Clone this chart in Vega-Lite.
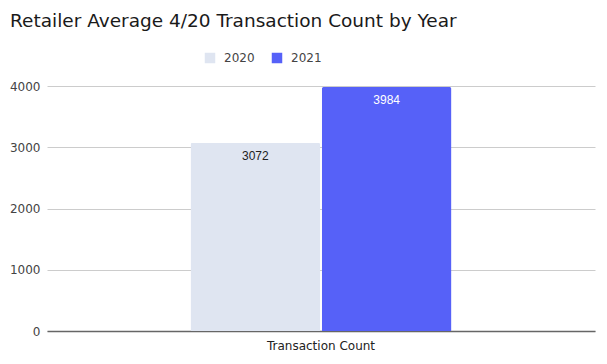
{
  "$schema": "https://vega.github.io/schema/vega-lite/v6.json",
  "autosize": "none",
  "width": 548,
  "height": 245,
  "padding": {"left": 47, "top": 86, "right": 12, "bottom": 33},
  "background": "white",
  "view": {"stroke": null},
  "title": {
    "text": "Retailer Average 4/20 Transaction Count by Year",
    "anchor": "start",
    "frame": "group",
    "dx": -37,
    "offset": 22,
    "font": "DejaVu Sans",
    "fontSize": 18.5,
    "fontWeight": "normal",
    "color": "#1a1a1a"
  },
  "data": {
    "values": [
      {"metric": "Transaction Count", "year": "2020", "value": 3072},
      {"metric": "Transaction Count", "year": "2021", "value": 3984}
    ]
  },
  "encoding": {
    "x": {
      "field": "metric",
      "type": "nominal",
      "scale": {"paddingInner": 0, "paddingOuter": 0.55},
      "axis": {
        "title": null,
        "labelAngle": 0,
        "ticks": false,
        "labelFont": "DejaVu Sans",
        "labelFontSize": 12,
        "labelColor": "#222",
        "labelPadding": 9,
        "domainColor": "#666",
        "domainWidth": 1.5
      }
    },
    "xOffset": {
      "field": "year",
      "type": "nominal",
      "scale": {"paddingInner": 0.012, "paddingOuter": 0}
    },
    "y": {
      "field": "value",
      "type": "quantitative",
      "scale": {"domain": [0, 4000]},
      "axis": {
        "title": null,
        "values": [0, 1000, 2000, 3000, 4000],
        "format": "d",
        "domain": false,
        "ticks": false,
        "labelFont": "DejaVu Sans",
        "labelFontSize": 12,
        "labelColor": "#444",
        "labelPadding": 7,
        "gridColor": "#cccccc"
      }
    }
  },
  "layer": [
    {
      "mark": {"type": "bar", "cornerRadiusTopLeft": 2, "cornerRadiusTopRight": 2},
      "encoding": {
        "color": {
          "field": "year",
          "type": "nominal",
          "scale": {"domain": ["2020", "2021"], "range": ["#dfe5f1", "#5661f8"]},
          "legend": {
            "title": null,
            "orient": "none",
            "direction": "horizontal",
            "legendX": 157,
            "legendY": -34,
            "symbolType": "square",
            "symbolSize": 110,
            "symbolStrokeWidth": 0,
            "labelFont": "DejaVu Sans",
            "labelFontSize": 12,
            "labelColor": "#444",
            "labelOffset": 8,
            "columnPadding": 16
          }
        }
      }
    },
    {
      "mark": {"type": "text", "dy": 13, "baseline": "middle", "font": "Liberation Sans", "fontSize": 12},
      "encoding": {
        "text": {"field": "value", "type": "quantitative", "format": "d"},
        "color": {
          "condition": {"test": "datum.year == '2021'", "value": "white"},
          "value": "#222"
        }
      }
    }
  ]
}
